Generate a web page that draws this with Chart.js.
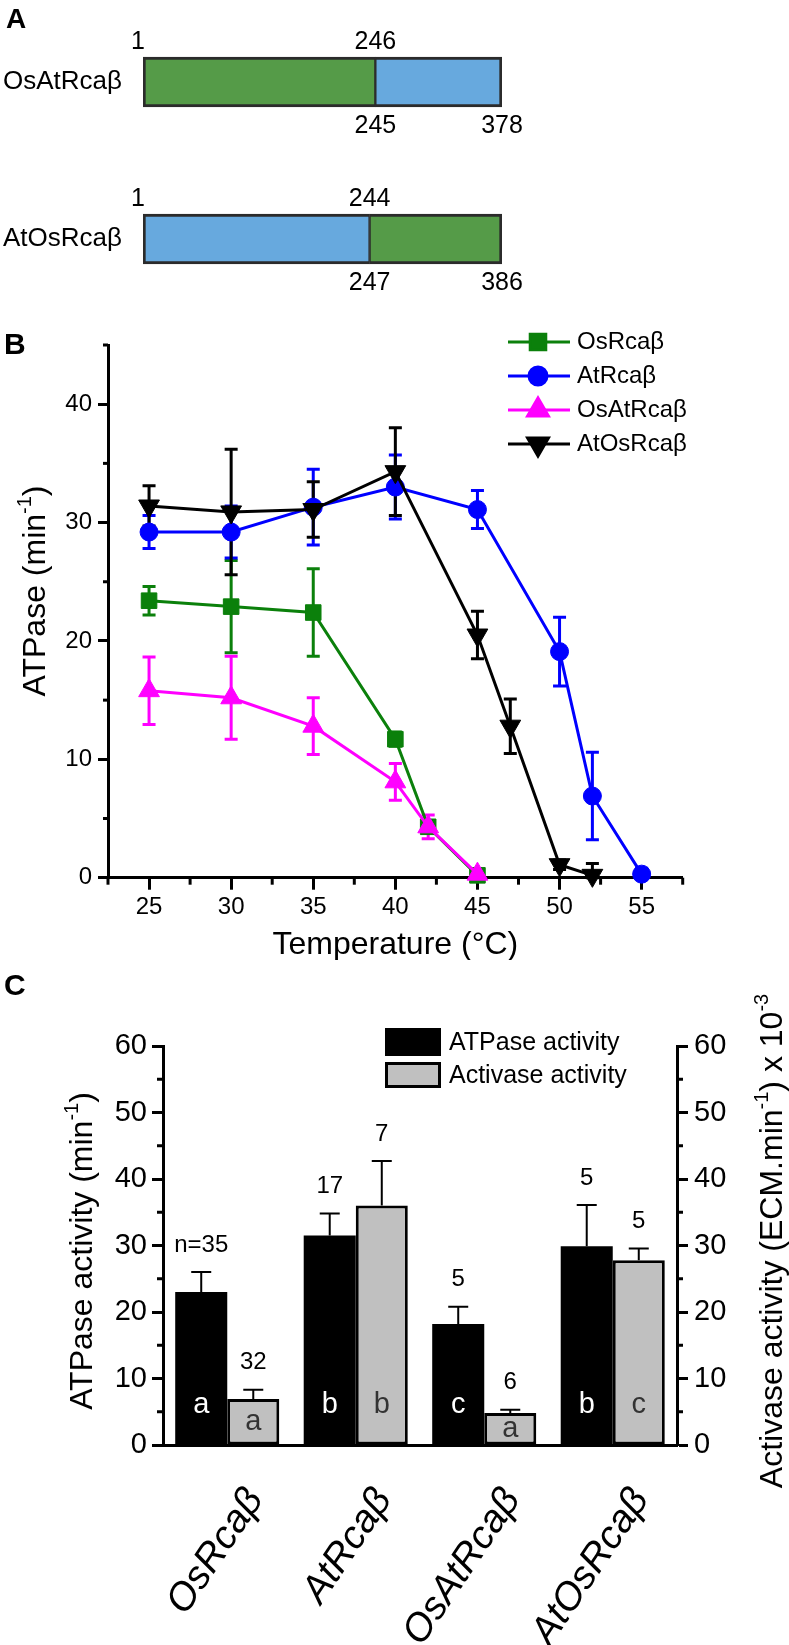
<!DOCTYPE html>
<html>
<head>
<meta charset="utf-8">
<script src="https://cdn.jsdelivr.net/npm/chart.js@4.4.1/dist/chart.umd.min.js"></script>
<style>
html,body{margin:0;padding:0;background:#fff;}
body{width:789px;height:1645px;position:relative;overflow:hidden;}
canvas{position:absolute;left:0;}
</style>
</head>
<body>
<canvas id="cA" width="789" height="320" style="top:0px"></canvas>
<canvas id="cB" width="789" height="640" style="top:320px"></canvas>
<canvas id="cC" width="789" height="685" style="top:960px"></canvas>
<script>
const FONT = "'Liberation Sans', Arial, Helvetica, sans-serif";

// ---------------- Panel A data (chimera schematics) ----------------
const chimeraNames = ['OsAtRcaβ', 'AtOsRcaβ'];
const firstSegment = [[1, 245], [1, 244]];
const secondSegment = [[245, 378], [244, 386]];
const topNumbers = [['1', '246'], ['1', '244']];
const bottomNumbers = [['245', '378'], ['247', '386']];

// ---------------- Panel B data (ATPase vs temperature) ----------------
const bSeriesNames = ['OsRcaβ', 'AtRcaβ', 'OsAtRcaβ', 'AtOsRcaβ'];
const osRcaTemp = [25, 30, 35, 40, 42, 45];
const osRcaRate = [23.4, 22.9, 22.4, 11.7, 4.3, 0.2];
const osRcaErr  = [1.2, 3.9, 3.7, 0.6, 0.5, 0.2];
const atRcaTemp = [25, 30, 35, 40, 45, 50, 52, 55];
const atRcaRate = [29.2, 29.2, 31.3, 33.0, 31.1, 19.1, 6.9, 0.3];
const atRcaErr  = [1.4, 2.2, 3.2, 2.7, 1.6, 2.9, 3.7, 0.5];
const osAtTemp = [25, 30, 35, 40, 42, 45];
const osAtRate = [15.8, 15.2, 12.8, 8.1, 4.3, 0.3];
const osAtErr  = [2.85, 3.5, 2.4, 1.55, 1.0, 0.3];
const atOsTemp = [25, 30, 35, 40, 45, 47, 50, 52];
const atOsRate = [31.4, 30.9, 31.1, 34.3, 20.5, 12.8, 1.1, 0.2];
const atOsErr  = [1.7, 5.3, 2.35, 3.7, 2.0, 2.3, 0.4, 1.0];
const bTempTicks = [25, 30, 35, 40, 45, 50, 55];
const bTempMinorTicks = [22.5, 27.5, 32.5, 37.5, 42.5, 47.5, 52.5, 57.5];
const bRateTicks = [0, 10, 20, 30, 40];
const bRateMinorTicks = [5, 15, 25, 35, 45];

// ---------------- Panel C data (bar chart) ----------------
const constructNames = ['OsRcaβ', 'AtRcaβ', 'OsAtRcaβ', 'AtOsRcaβ'];
const atpaseActivity = [23.0, 31.5, 18.2, 29.9];
const atpaseSE = [3.0, 3.3, 2.6, 6.2];
const activaseActivity = [6.9, 36.0, 4.8, 27.8];
const activaseSE = [1.4, 6.7, 0.5, 1.75];
const atpaseN = ['n=35', '17', '5', '5'];
const activaseN = ['32', '7', '6', '5'];
const atpaseLetters = ['a', 'b', 'c', 'b'];
const activaseLetters = ['a', 'b', 'a', 'c'];
const cTicks = [0, 10, 20, 30, 40, 50, 60];
const cMinorTicks = [5, 15, 25, 35, 45, 55];

// ---------------- helpers ----------------
function richText(ctx, parts, x, y, rot, size) {
  ctx.save();
  ctx.translate(x, y);
  ctx.rotate(rot);
  ctx.textBaseline = 'alphabetic';
  ctx.textAlign = 'left';
  ctx.fillStyle = '#000';
  const fonts = parts.map(p => (p[1] ? Math.round(size * 0.62) : size) + 'px ' + FONT);
  const widths = parts.map((p, i) => { ctx.font = fonts[i]; return ctx.measureText(p[0]).width; });
  const total = widths.reduce((a, b) => a + b, 0);
  let cx = -total / 2;
  const base = size * 0.36;
  parts.forEach((p, i) => {
    ctx.font = fonts[i];
    ctx.fillText(p[0], cx, p[1] ? base - size * 0.42 : base);
    cx += widths[i];
  });
  ctx.restore();
}
function minorTicks(ctx, scale, values, len, width) {
  ctx.save();
  ctx.strokeStyle = '#000';
  ctx.lineWidth = width;
  values.forEach(v => {
    const p = scale.getPixelForValue(v);
    ctx.beginPath();
    if (scale.isHorizontal()) { ctx.moveTo(p, scale.top); ctx.lineTo(p, scale.top + len); }
    else if (scale.position === 'left') { ctx.moveTo(scale.right, p); ctx.lineTo(scale.right - len, p); }
    else { ctx.moveTo(scale.left, p); ctx.lineTo(scale.left + len, p); }
    ctx.stroke();
  });
  ctx.restore();
}
function panelLetter(ctx, letter, x, y, size) {
  ctx.save();
  ctx.fillStyle = '#000';
  ctx.font = 'bold ' + size + 'px ' + FONT;
  ctx.textBaseline = 'middle';
  ctx.textAlign = 'left';
  ctx.fillText(letter, x, y);
  ctx.restore();
}

// ---------------- Panel A ----------------
const GREEN_A = '#559b48', BLUE_A = '#67a9de', EDGE_A = '#2b2b2b';
function segOpts(color, l, r) {
  return { backgroundColor: color, borderColor: EDGE_A, borderWidth: {top: 3, bottom: 3, left: l, right: r},
           borderSkipped: false, grouped: false, barThickness: 50 };
}
new Chart(document.getElementById('cA'), {
  type: 'bar',
  data: {
    labels: chimeraNames,
    datasets: [
      Object.assign({ data: [firstSegment[0], null], xAxisID: 'xa' }, segOpts(GREEN_A, 3, 1.5)),
      Object.assign({ data: [secondSegment[0], null], xAxisID: 'xa' }, segOpts(BLUE_A, 1.5, 3)),
      Object.assign({ data: [null, firstSegment[1]], xAxisID: 'xb' }, segOpts(BLUE_A, 3, 1.5)),
      Object.assign({ data: [null, secondSegment[1]], xAxisID: 'xb' }, segOpts(GREEN_A, 1.5, 3))
    ]
  },
  options: {
    indexAxis: 'y', responsive: false, animation: false, devicePixelRatio: 1,
    layout: { padding: { left: 143, right: 287, top: 3.5, bottom: 2.5 } },
    plugins: { legend: { display: false }, tooltip: { enabled: false } },
    scales: {
      y: { type: 'category', display: false, offset: true },
      xa: { type: 'linear', axis: 'x', display: false, min: firstSegment[0][0], max: secondSegment[0][1] },
      xb: { type: 'linear', axis: 'x', display: false, min: firstSegment[1][0], max: secondSegment[1][1] }
    }
  },
  plugins: [{
    id: 'labelsA',
    afterDraw(chart) {
      const ctx = chart.ctx;
      panelLetter(ctx, 'A', 6, 20, 28);
      const ys = chart.scales.y;
      const xs = [chart.scales.xa, chart.scales.xb];
      ctx.save();
      ctx.fillStyle = '#000';
      ctx.textBaseline = 'middle';
      chimeraNames.forEach((name, i) => {
        const yc = ys.getPixelForValue(i);
        ctx.font = '26px ' + FONT;
        ctx.textAlign = 'left';
        ctx.fillText(name, 3, yc);
        ctx.font = '25px ' + FONT;
        ctx.textAlign = 'center';
        const sx = xs[i].getPixelForValue(firstSegment[i][0]);
        const jx = xs[i].getPixelForValue(firstSegment[i][1]);
        const ex = xs[i].getPixelForValue(secondSegment[i][1]);
        const topY = yc - 25 - 15;
        const botY = yc + 25 + 19;
        ctx.fillText(topNumbers[i][0], sx - 5, topY);
        ctx.fillText(topNumbers[i][1], jx, topY);
        ctx.fillText(bottomNumbers[i][0], jx, botY);
        ctx.fillText(bottomNumbers[i][1], ex, botY);
      });
      ctx.restore();
    }
  }]
});

// ---------------- Panel B ----------------
const bSeries = [
  { t: osRcaTemp, v: osRcaRate, e: osRcaErr, color: '#0b800b', style: 'rect', r: 11, rot: 0, order: 4 },
  { t: atRcaTemp, v: atRcaRate, e: atRcaErr, color: '#0000ff', style: 'circle', r: 9, rot: 0, order: 3 },
  { t: osAtTemp, v: osAtRate, e: osAtErr, color: '#ff00ff', style: 'triangle', r: 12, rot: 0, order: 2 },
  { t: atOsTemp, v: atOsRate, e: atOsErr, color: '#000000', style: 'triangle', r: 12, rot: 180, order: 1 }
];
new Chart(document.getElementById('cB'), {
  type: 'line',
  data: {
    datasets: bSeries.map((s, k) => ({
      label: bSeriesNames[k],
      data: s.t.map((x, i) => ({ x: x, y: s.v[i] })),
      borderColor: s.color, backgroundColor: s.color, borderWidth: 3,
      pointStyle: s.style, pointRadius: s.r, pointRotation: s.rot, pointBorderWidth: 1,
      pointBorderColor: s.color, pointBackgroundColor: s.color,
      tension: 0, order: s.order, clip: false
    }))
  },
  options: {
    responsive: false, animation: false, devicePixelRatio: 1,
    layout: { padding: { top: 25, right: 106.3, left: 0, bottom: 0 } },
    plugins: { legend: { display: false }, tooltip: { enabled: false } },
    scales: {
      x: {
        type: 'linear', min: 22.5, max: 57.5, bounds: 'data',
        afterBuildTicks: s => { s.ticks = bTempTicks.map(v => ({ value: v })); },
        afterFit: s => { s.height = 82.3; },
        ticks: { font: { family: FONT, size: 24 }, color: '#000', padding: 3, maxRotation: 0, autoSkip: false },
        grid: { drawOnChartArea: false, tickLength: 12, tickWidth: 3, tickColor: '#000' },
        border: { display: true, width: 3, color: '#000' }
      },
      y: {
        type: 'linear', min: 0, max: 45, bounds: 'data',
        afterBuildTicks: s => { s.ticks = bRateTicks.map(v => ({ value: v })); },
        afterFit: s => { s.width = 108; },
        ticks: { font: { family: FONT, size: 24 }, color: '#000', padding: 6 },
        grid: { drawOnChartArea: false, tickLength: 10, tickWidth: 3, tickColor: '#000' },
        border: { display: true, width: 3, color: '#000' }
      }
    }
  },
  plugins: [{
    id: 'errorBarsB',
    beforeDatasetsDraw(chart) {
      const ctx = chart.ctx, ys = chart.scales.y;
      ctx.save();
      ctx.lineWidth = 3;
      bSeries.forEach((s, d) => {
        const meta = chart.getDatasetMeta(d);
        ctx.strokeStyle = s.color;
        s.v.forEach((v, i) => {
          const x = meta.data[i].x;
          const yt = ys.getPixelForValue(v + s.e[i]);
          const yb = ys.getPixelForValue(Math.max(v - s.e[i], 0));
          ctx.beginPath();
          ctx.moveTo(x, yt); ctx.lineTo(x, yb);
          ctx.moveTo(x - 6.5, yt); ctx.lineTo(x + 6.5, yt);
          ctx.moveTo(x - 6.5, yb); ctx.lineTo(x + 6.5, yb);
          ctx.stroke();
        });
      });
      ctx.restore();
    },
    afterDraw(chart) {
      const ctx = chart.ctx;
      minorTicks(ctx, chart.scales.x, bTempMinorTicks, 7, 3);
      minorTicks(ctx, chart.scales.y, bRateMinorTicks, 5, 3);
      panelLetter(ctx, 'B', 4, 26, 30);
      richText(ctx, [['ATPase (min', false], ['-1', true], [')', false]], 33, 271, -Math.PI / 2, 32);
      richText(ctx, [['Temperature (°C)', false]], (chart.chartArea.left + chart.chartArea.right) / 2, 622, 0, 32);
      // legend
      ctx.save();
      bSeries.forEach((s, i) => {
        const y = 22 + i * 34;
        ctx.strokeStyle = s.color; ctx.fillStyle = s.color; ctx.lineWidth = 3;
        ctx.beginPath(); ctx.moveTo(508, y); ctx.lineTo(570, y); ctx.stroke();
        Chart.helpers.drawPoint(ctx, { pointStyle: s.style, rotation: s.rot, radius: s.r, borderWidth: 1 }, 538, y);
        ctx.fillStyle = '#000';
        ctx.font = '24px ' + FONT;
        ctx.textAlign = 'left'; ctx.textBaseline = 'middle';
        ctx.fillText(bSeriesNames[i], 577, y);
      });
      ctx.restore();
    }
  }]
});

// ---------------- Panel C ----------------
const GRAY_C = '#c0c0c0';
new Chart(document.getElementById('cC'), {
  type: 'bar',
  data: {
    labels: constructNames,
    datasets: [
      { label: 'ATPase activity', data: atpaseActivity, yAxisID: 'y', backgroundColor: '#000', borderWidth: 0,
        categoryPercentage: 0.81, barPercentage: 1 },
      { label: 'Activase activity', data: activaseActivity, yAxisID: 'y2', backgroundColor: GRAY_C, borderColor: '#000',
        borderWidth: 3, borderSkipped: false, categoryPercentage: 0.81, barPercentage: 1 }
    ]
  },
  options: {
    responsive: false, animation: false, devicePixelRatio: 1,
    layout: { padding: { top: 86, left: 0, right: 0, bottom: 0 } },
    plugins: { legend: { display: false }, tooltip: { enabled: false } },
    scales: {
      x: {
        type: 'category', offset: true,
        afterFit: s => { s.height = 200; },
        ticks: { display: false },
        grid: { display: false, drawTicks: false },
        border: { display: true, width: 3, color: '#000', z: 1 }
      },
      y: {
        type: 'linear', position: 'left', min: 0, max: 60, bounds: 'data',
        afterBuildTicks: s => { s.ticks = cTicks.map(v => ({ value: v })); },
        afterFit: s => { s.width = 163; },
        ticks: { font: { family: FONT, size: 29 }, color: '#000', padding: 5 },
        grid: { drawOnChartArea: false, tickLength: 11, tickWidth: 3, tickColor: '#000' },
        border: { display: true, width: 3, color: '#000' }
      },
      y2: {
        type: 'linear', position: 'right', min: 0, max: 60, bounds: 'data',
        afterBuildTicks: s => { s.ticks = cTicks.map(v => ({ value: v })); },
        afterFit: s => { s.width = 112; },
        ticks: { font: { family: FONT, size: 29 }, color: '#000', padding: 6 },
        grid: { drawOnChartArea: false, tickLength: 11, tickWidth: 3, tickColor: '#000' },
        border: { display: true, width: 3, color: '#000' }
      }
    }
  },
  plugins: [{
    id: 'annotC',
    afterDatasetsDraw(chart) {
      const ctx = chart.ctx;
      const groups = [
        { meta: chart.getDatasetMeta(0), v: atpaseActivity, e: atpaseSE, n: atpaseN, l: atpaseLetters, s: chart.scales.y, lc: '#fff' },
        { meta: chart.getDatasetMeta(1), v: activaseActivity, e: activaseSE, n: activaseN, l: activaseLetters, s: chart.scales.y2, lc: '#333' }
      ];
      ctx.save();
      groups.forEach(g => {
        g.v.forEach((v, i) => {
          const x = g.meta.data[i].x;
          const yv = g.s.getPixelForValue(v);
          const yt = g.s.getPixelForValue(v + g.e[i]);
          ctx.strokeStyle = '#000'; ctx.lineWidth = 2;
          ctx.beginPath();
          ctx.moveTo(x, yv); ctx.lineTo(x, yt);
          ctx.moveTo(x - 10, yt); ctx.lineTo(x + 10, yt);
          ctx.stroke();
          ctx.fillStyle = '#000';
          ctx.font = '24px ' + FONT;
          ctx.textAlign = 'center'; ctx.textBaseline = 'middle';
          ctx.fillText(g.n[i], x, yt - 27);
          ctx.fillStyle = g.lc;
          ctx.font = '29px ' + FONT;
          ctx.fillText(g.l[i], x, g.s.getPixelForValue(Math.min(v / 2, 6)));
        });
      });
      ctx.restore();
    },
    afterDraw(chart) {
      const ctx = chart.ctx;
      minorTicks(ctx, chart.scales.y, cMinorTicks, 6, 3);
      minorTicks(ctx, chart.scales.y2, cMinorTicks, 6, 3);
      panelLetter(ctx, 'C', 4, 27, 30);
      richText(ctx, [['ATPase activity (min', false], ['-1', true], [')', false]], 80, 291, -Math.PI / 2, 32);
      richText(ctx, [['Activase activity (ECM.min', false], ['-1', true], [') x 10', false], ['-3', true]], 770, 281, -Math.PI / 2, 32);
      // legend
      ctx.save();
      ctx.fillStyle = '#000';
      ctx.fillRect(385, 68, 56, 28);
      ctx.fillStyle = GRAY_C;
      ctx.fillRect(386.5, 103.5, 53, 23);
      ctx.strokeStyle = '#000'; ctx.lineWidth = 3;
      ctx.strokeRect(386.5, 103.5, 53, 23);
      ctx.fillStyle = '#000';
      ctx.font = '25px ' + FONT;
      ctx.textAlign = 'left'; ctx.textBaseline = 'middle';
      ctx.fillText(chart.data.datasets[0].label, 449, 83);
      ctx.fillText(chart.data.datasets[1].label, 449, 116);
      ctx.restore();
      // rotated category labels
      const xs = chart.scales.x;
      ctx.save();
      ctx.fillStyle = '#000';
      ctx.font = 'italic 39px ' + FONT;
      ctx.textAlign = 'right'; ctx.textBaseline = 'middle';
      constructNames.forEach((name, i) => {
        const px = xs.getPixelForTick(i);
        ctx.save();
        ctx.translate(px + 28, 533);
        ctx.rotate(-56 * Math.PI / 180);
        ctx.fillText(name, 0, 0);
        ctx.restore();
      });
      ctx.restore();
    }
  }]
});
</script>
</body>
</html>
